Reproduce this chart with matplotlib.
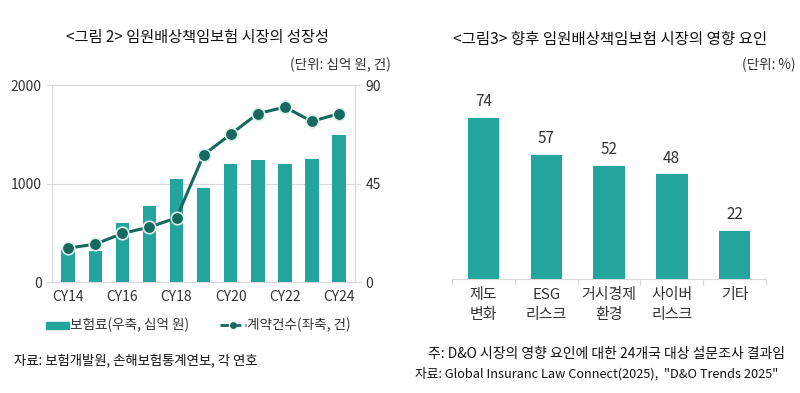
import matplotlib.pyplot as plt
import numpy as np

plt.rcParams['font.family'] = ['Noto Sans CJK KR', 'DejaVu Sans']

# left chart data
years = ['CY14', 'CY15', 'CY16', 'CY17', 'CY18', 'CY19', 'CY20', 'CY21', 'CY22', 'CY23', 'CY24']
premium = [330, 310, 600, 770, 1045, 950, 1200, 1240, 1200, 1250, 1495]
contracts = [15.5, 17.3, 22.2, 25.1, 29.3, 58.1, 67.5, 76.9, 79.9, 73.4, 76.9]

# right chart data
factors = ['제도\n변화', 'ESG\n리스크', '거시경제\n환경', '사이버\n리스크', '기타']
shares = [74, 57, 52, 48, 22]

bar_color = '#23A59D'
line_color = '#17695F'
grid_color = '#D9D9D9'
text_color = '#333333'

fig = plt.figure(figsize=(8, 3.93), dpi=100)

# ---- left chart
ax = fig.add_axes([0.065, 0.2824, 0.379, 0.5013])
x = np.arange(len(years))
ax.bar(x, premium, width=0.5, color=bar_color, zorder=2)
ax.set_ylim(0, 2000)
ax.set_xlim(-0.6, len(years) - 0.4)
ax.set_yticks([0, 1000, 2000])
ax.set_xticks(x[::2])
ax.set_xticklabels(years[::2])
ax.yaxis.grid(True, color=grid_color, linewidth=0.8, zorder=0)
ax.spines['top'].set_visible(False)
for s in ['left', 'right', 'bottom']:
    ax.spines[s].set_color(grid_color)
ax.tick_params(axis='both', colors=grid_color, labelcolor=text_color, labelsize=10, length=4)
ax.tick_params(axis='x', length=0, pad=6)

ax2 = ax.twinx()
ax2.plot(x, contracts, color=line_color, linewidth=2.2, marker='o', markersize=9,
         markerfacecolor=line_color, markeredgecolor='#D8EEEA', markeredgewidth=1.2, zorder=3)
ax2.set_ylim(0, 90)
ax2.set_yticks([0, 45, 90])
for s in ['top', 'left', 'bottom']:
    ax2.spines[s].set_visible(False)
ax2.spines['right'].set_color(grid_color)
ax2.tick_params(axis='y', colors=grid_color, labelcolor=text_color, labelsize=10, length=4)

fig.text(0.247, 0.905, '<그림 2> 임원배상책임보험 시장의 성장성', ha='center', va='center',
         fontsize=11, color='#111111')
fig.text(0.488, 0.835, '(단위: 십억 원, 건)', ha='right', va='center', fontsize=9.8, color=text_color)

# legend (drawn in figure coords)
fig.patches.append(plt.Rectangle((0.057, 0.163), 0.029, 0.018, transform=fig.transFigure,
                                 color=bar_color))
fig.text(0.088, 0.172, '보험료(우축, 십억 원)', ha='left', va='center', fontsize=9.8, color=text_color)
fig.lines.append(plt.Line2D([0.275, 0.307], [0.172, 0.172], transform=fig.transFigure,
                            color=line_color, linewidth=2, linestyle='--', dashes=(3, 1.5)))
fig.lines.append(plt.Line2D([0.291], [0.172], transform=fig.transFigure, color=line_color,
                            marker='o', markersize=4))
fig.text(0.309, 0.172, '계약건수(좌축, 건)', ha='left', va='center', fontsize=9.8, color=text_color)

fig.text(0.017, 0.083, '자료: 보험개발원, 손해보험통계연보, 각 연호', ha='left', va='center',
         fontsize=9.6, color='#111111')

# ---- right chart
bx = fig.add_axes([0.565, 0.29, 0.3925, 0.4936])
xr = np.arange(len(factors))
bars = bx.bar(xr, shares, width=0.5, color=bar_color, zorder=2)
bx.set_ylim(0, 89)
bx.set_xlim(-0.5, len(factors) - 0.5)
for b, v in zip(bars, shares):
    bx.text(b.get_x() + b.get_width() / 2, v + 3.5, str(v), ha='center', va='bottom',
            fontsize=11, color=text_color)
bx.set_yticks([])
for s in ['top', 'left', 'right']:
    bx.spines[s].set_visible(False)
bx.spines['bottom'].set_color(grid_color)
bx.set_xticks(np.arange(-0.5, len(factors)))
bx.set_xticklabels([])
bx.tick_params(axis='x', colors=grid_color, length=4, direction='out')
for i, lab in enumerate(factors):
    bx.text(i, -4, lab, ha='center', va='top', fontsize=10.8, color=text_color,
            linespacing=1.55)

fig.text(0.763, 0.9, '<그림3> 향후 임원배상책임보험 시장의 영향 요인', ha='center', va='center',
         fontsize=11.2, color='#111111')
fig.text(0.995, 0.835, '(단위: %)', ha='right', va='center', fontsize=9.8, color=text_color)
fig.text(0.535, 0.1, '주: D&O 시장의 영향 요인에 대한 24개국 대상 설문조사 결과임', ha='left',
         va='center', fontsize=10, color='#111111')
fig.text(0.519, 0.05, '자료: Global Insuranc Law Connect(2025),  "D&O Trends 2025"', ha='left',
         va='center', fontsize=9.2, color='#111111')

fig.savefig('out.png', dpi=100, facecolor='white')
